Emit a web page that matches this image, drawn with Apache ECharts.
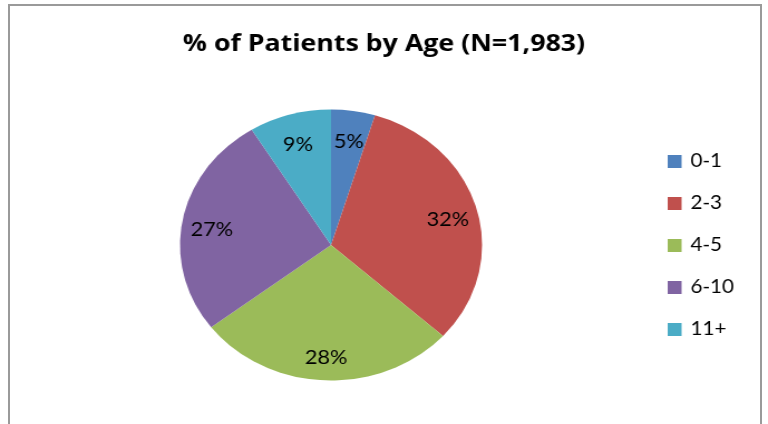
<!DOCTYPE html>
<html>
<head>
<meta charset="utf-8">
<script src="https://cdn.jsdelivr.net/npm/echarts@6/dist/echarts.min.js"></script>
<style>
  html, body { margin: 0; padding: 0; background: #fff; overflow: hidden; }
  #frame { position: absolute; left: 8px; top: 4px; width: 754px; height: 440px;
           border: 2px solid #9a9a9a; box-sizing: border-box; }
  #chart { position: absolute; left: 0; top: 0; width: 689px; height: 424px;
           transform: scaleX(1.1146); transform-origin: 0 0; }
</style>
</head>
<body>
<div id="frame"></div>
<div id="chart"></div>
<script>
// age groups and their share of patients (%)
const ageGroups = ["0-1", "2-3", "4-5", "6-10", "11+"];
const patientShare = [4.7, 32.0, 27.9, 26.6, 8.8];
const sliceColors = ["#4F81BD", "#C0504D", "#9BBB59", "#8064A2", "#4BACC6"];
const chartTitle = "% of Patients by Age (N=1,983)";

function buildData() {
  let d = [];
  for (let i = 0; i < ageGroups.length; i++) {
    d.push({ name: ageGroups[i], value: patientShare[i] });
  }
  return d;
}

let myChart = echarts.init(document.getElementById("chart")),
  option;
let fontName = "Lato";
option = {
  animation: false,
  color: sliceColors,
  title: {
    text: chartTitle,
    left: "center",
    top: 32,
    padding: 0,
    textStyle: { fontFamily: "Open Sans", fontWeight: "bold", fontSize: 24, color: "#000" }
  },
  legend: {
    orient: "vertical",
    left: 599,
    top: 152,
    padding: 0,
    itemWidth: 12.5,
    itemHeight: 13,
    itemGap: 23,
    icon: "rect",
    data: ageGroups,
    textStyle: { fontFamily: fontName, fontSize: 18.5, lineHeight: 16, color: "#000", padding: [0, 0, 0, 3] }
  },
  series: [
    {
      name: "pie",
      type: "pie",
      center: [297, 245],
      radius: 135.5,
      startAngle: 90,
      clockwise: true,
      silent: true,
      label: { show: false },
      labelLine: { show: false },
      itemStyle: { borderWidth: 0 },
      data: buildData()
    },
    {
      // transparent ring only used to place the labels like Excel does
      name: "labels",
      type: "pie",
      center: [297, 245],
      radius: [76, 135.5],
      startAngle: 90,
      clockwise: true,
      silent: true,
      itemStyle: { color: "transparent", borderWidth: 0 },
      label: {
        show: true,
        position: "inside",
        offset: [0, 4],
        fontFamily: fontName,
        fontSize: 19.5,
        color: "#000",
        formatter: function (p) {
          return Math.round(p.value) + "%";
        }
      },
      labelLine: { show: false },
      data: buildData()
    }
  ]
};
myChart.setOption(option);
</script>
</body>
</html>
